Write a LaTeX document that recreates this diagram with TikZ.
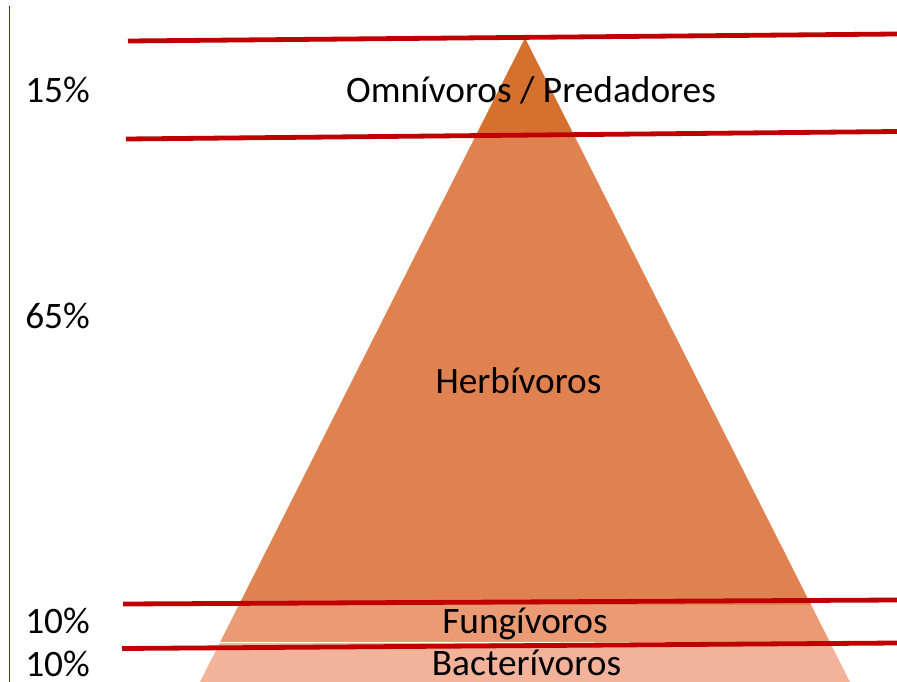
\documentclass[tikz,border=0pt]{standalone}
\usepackage{fontspec}
\setmainfont{Carlito}
\definecolor{topband}{HTML}{D5702E}
\definecolor{herbband}{HTML}{E0824F}
\definecolor{fungband}{HTML}{EA9B73}
\definecolor{bactband}{HTML}{F3B39B}
\definecolor{redline}{HTML}{C00000}
\begin{document}
\begin{tikzpicture}[x=0.75pt,y=-0.75pt,
  sep/.style={draw=redline,line width=3.6pt},
  lbl/.style={inner sep=0pt,font=\fontsize{28}{32}\selectfont,text=black},
  pct/.style={lbl,anchor=base west}]
\useasboundingbox (0,0) rectangle (897,682);
\fill[white] (0,0) rectangle (897,682);
% left axis line
\coordinate (ax1) at (9.5,6);
\coordinate (ax2) at (9.5,682);
\draw[redline,line width=0.8pt] (ax1) -- (ax2);
% pyramid
\coordinate (apex) at (525,38);
\coordinate (bl) at (200,682);
\coordinate (br) at (850,682);
\begin{scope}
  \clip (apex) -- (br) -- (bl) -- cycle;
  \fill[topband] (0,0) rectangle (897,135);
  \fill[herbband] (0,135) rectangle (897,605);
  \fill[fungband] (0,605) rectangle (897,641.5);
  \fill[bactband] (0,643) rectangle (897,682);
\end{scope}
% red separator lines
\coordinate (l1a) at (128,41);  \coordinate (l1b) at (897,34);
\coordinate (l2a) at (126,139); \coordinate (l2b) at (897,131.5);
\coordinate (l3a) at (123,604); \coordinate (l3b) at (897,600);
\coordinate (l4a) at (122,648.5); \coordinate (l4b) at (897,643);
\draw[sep] (l1a) -- (l1b);
\draw[sep] (l2a) -- (l2b);
\draw[sep] (l3a) -- (l3b);
\draw[sep] (l4a) -- (l4b);
% percentages
\node[pct] (p15) at (25,102) {15\%};
\node[pct] (p65) at (25,328) {65\%};
\node[pct] (p10a) at (25,633) {10\%};
\node[pct] (p10b) at (25,676.5) {10\%};
% level labels
\node[lbl,anchor=base] (omn) at (531,102) {Omnívoros / Predadores};
\node[lbl,anchor=base] (herb) at (518.5,393) {Herbívoros};
\node[lbl,anchor=base] (fung) at (525,633) {Fungívoros};
\node[lbl,anchor=base] (bact) at (526.5,675) {Bacterívoros};
\end{tikzpicture}
\end{document}
